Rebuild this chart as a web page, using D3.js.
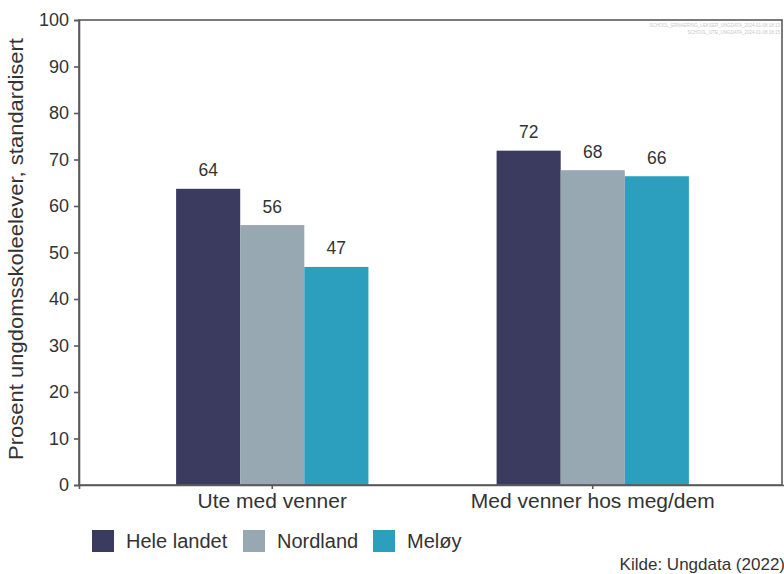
<!DOCTYPE html>
<html><head><meta charset="utf-8">
<script src="https://cdn.jsdelivr.net/npm/d3@7"></script>
<style>body{margin:0;background:#fff;}svg{display:block;font-family:"Liberation Sans",Arial,sans-serif;}</style>
</head><body>
<script>
const categories = ["Ute med venner", "Med venner hos meg/dem"];
const seriesNames = ["Hele landet", "Nordland", "Meløy"];
const helelandet = [63.7, 71.9];
const nordland = [55.9, 67.7];
const meloy = [46.9, 66.4];
const valueLabels = [["64", "72"], ["56", "68"], ["47", "66"]];
const yTicks = [0,10,20,30,40,50,60,70,80,90,100];
const colors = ["#3b3a5f", "#98a8b2", "#2c9fbf"];
const seriesValues = [helelandet, nordland, meloy];

const W = 784, H = 574;
const m = {left: 79, right: 2, top: 20, bottom: 89};
const svg = d3.select("body").append("svg").attr("width", W).attr("height", H);
const FONT = "Liberation Sans, Arial, sans-serif";
const TXT = "#333";

const x0 = d3.scaleBand().domain(categories).range([m.left, 786]).paddingInner(0.4).paddingOuter(0.303);
const x1 = d3.scaleBand().domain(seriesNames).range([0, x0.bandwidth()]);
const y = d3.scaleLinear().domain([0, 100]).range([H - m.bottom, m.top]);

// bars
seriesNames.forEach((s, si) => {
  svg.append("g").selectAll("rect").data(categories).join("rect")
    .attr("x", c => x0(c) + x1(s))
    .attr("y", (c, i) => y(seriesValues[si][i]))
    .attr("width", x1.bandwidth())
    .attr("height", (c, i) => y(0) - y(seriesValues[si][i]))
    .attr("fill", colors[si]);
  svg.append("g").selectAll("text").data(categories).join("text")
    .attr("x", c => x0(c) + x1(s) + x1.bandwidth() / 2)
    .attr("y", (c, i) => y(seriesValues[si][i]) - 12.5)
    .attr("text-anchor", "middle")
    .attr("font-size", 17.5).attr("fill", TXT)
    .text((c, i) => valueLabels[si][i]);
});

// frame
svg.append("rect").attr("x", m.left).attr("y", m.top)
  .attr("width", W - m.right - m.left).attr("height", y(0) - m.top)
  .attr("fill", "none").attr("stroke", "#5a5a5a").attr("stroke-width", 1.6);

// y axis
const ya = svg.append("g").attr("transform", `translate(${m.left},0)`)
  .call(d3.axisLeft(y).tickValues(yTicks).tickSize(5).tickPadding(5));
ya.select(".domain").attr("stroke", "#5a5a5a").attr("stroke-width", 1.6);
ya.selectAll(".tick line").attr("stroke", "#5a5a5a").attr("stroke-width", 1.6);
ya.selectAll("text").attr("font-size", 18).attr("fill", TXT).attr("font-family", FONT);

// x axis
const xa = svg.append("g").attr("transform", `translate(0,${y(0)})`)
  .call(d3.axisBottom(x0).tickSize(4).tickPadding(4));
xa.select(".domain").attr("stroke", "#5a5a5a").attr("stroke-width", 1.6);
xa.selectAll(".tick line").attr("stroke", "#5a5a5a").attr("stroke-width", 1.6);
xa.selectAll("text").attr("font-size", 21).attr("fill", TXT).attr("font-family", FONT);

// y title
svg.append("text").attr("transform", `translate(23,${(38 + 460) / 2}) rotate(-90)`)
  .attr("text-anchor", "middle").attr("font-size", 21).attr("fill", TXT)
  .attr("textLength", 422).attr("lengthAdjust", "spacingAndGlyphs")
  .text("Prosent ungdomsskoleelever, standardisert");

// legend
const legX = [92, 243, 373];
const legTextX = [126, 277, 407];
seriesNames.forEach((s, i) => {
  svg.append("rect").attr("x", legX[i]).attr("y", 530).attr("width", 22).attr("height", 22).attr("fill", colors[i]);
  svg.append("text").attr("x", legTextX[i]).attr("y", 548).attr("font-size", 20).attr("fill", TXT).text(s);
});

// source
svg.append("text").attr("x", 785).attr("y", 570).attr("text-anchor", "end")
  .attr("font-size", 17).attr("fill", TXT).text("Kilde: Ungdata (2022)");

// watermark
svg.append("text").attr("x", 780).attr("y", 27).attr("text-anchor", "end")
  .attr("font-size", 4.5).attr("fill", "#c8c8c8").text("SCHOOL_ERNAERING_LEKSER_UNGDATA_2024-01-08 18:13");
svg.append("text").attr("x", 780).attr("y", 34).attr("text-anchor", "end")
  .attr("font-size", 4.5).attr("fill", "#c8c8c8").text("SCHOOL_UTE_UNGDATA_2024-01-08 18:15");
</script>
</body></html>
